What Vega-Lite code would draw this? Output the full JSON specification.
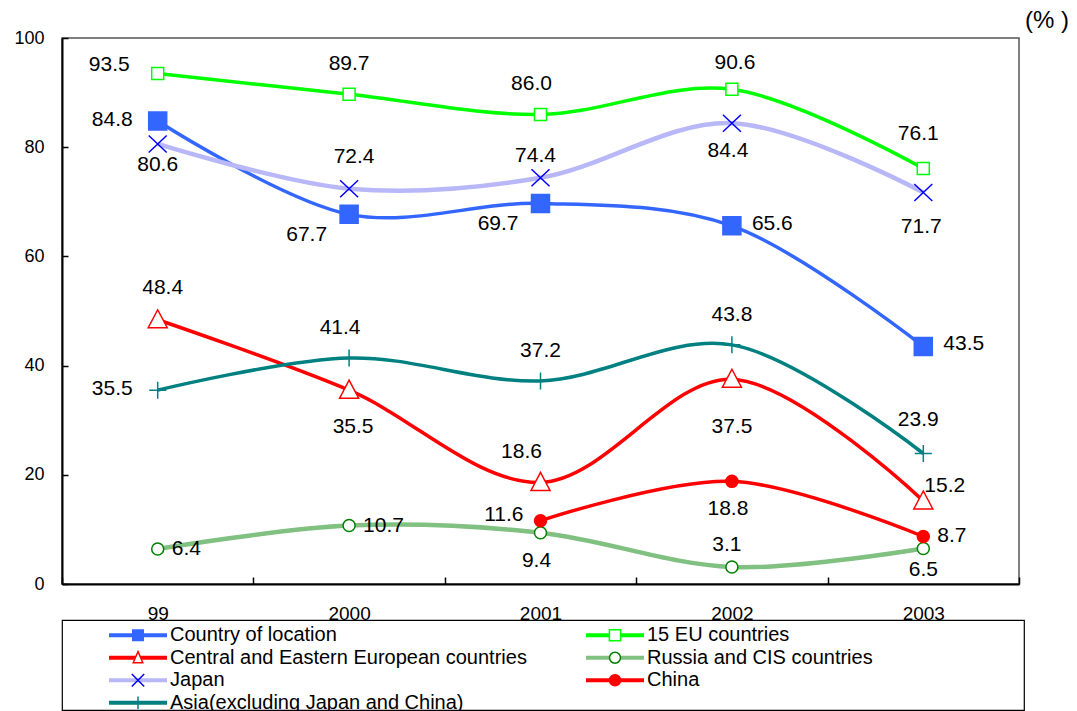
{
  "$schema": "https://vega.github.io/schema/vega-lite/v6.json",
  "autosize": {"type": "pad"},
  "padding": {"left": 13, "top": 8, "right": 5, "bottom": 0},
  "background": "white",
  "spacing": 36,
  "bounds": "flush",
  "resolve": {"scale": {"shape": "independent"}},
  "config": {
    "view": {"stroke": "#555555", "strokeWidth": 1.5},
    "axis": {"grid": false, "domainColor": "black", "domainWidth": 2, "tickColor": "black", "tickWidth": 1.5, "labelColor": "black", "labelFont": "Liberation Sans", "title": null},
    "text": {"font": "Liberation Sans", "fontSize": 21, "color": "black", "baseline": "middle", "align": "center"}
  },
  "datasets": {
    "main": [
      {"series": "Country of location", "year": "99", "value": 84.8},
      {"series": "Country of location", "year": "2000", "value": 67.7},
      {"series": "Country of location", "year": "2001", "value": 69.7},
      {"series": "Country of location", "year": "2002", "value": 65.6},
      {"series": "Country of location", "year": "2003", "value": 43.5},
      {"series": "15 EU countries", "year": "99", "value": 93.5},
      {"series": "15 EU countries", "year": "2000", "value": 89.7},
      {"series": "15 EU countries", "year": "2001", "value": 86.0},
      {"series": "15 EU countries", "year": "2002", "value": 90.6},
      {"series": "15 EU countries", "year": "2003", "value": 76.1},
      {"series": "Central and Eastern European countries", "year": "99", "value": 48.4},
      {"series": "Central and Eastern European countries", "year": "2000", "value": 35.5},
      {"series": "Central and Eastern European countries", "year": "2001", "value": 18.6},
      {"series": "Central and Eastern European countries", "year": "2002", "value": 37.5},
      {"series": "Central and Eastern European countries", "year": "2003", "value": 15.2},
      {"series": "Russia and CIS countries", "year": "99", "value": 6.4},
      {"series": "Russia and CIS countries", "year": "2000", "value": 10.7},
      {"series": "Russia and CIS countries", "year": "2001", "value": 9.4},
      {"series": "Russia and CIS countries", "year": "2002", "value": 3.1},
      {"series": "Russia and CIS countries", "year": "2003", "value": 6.5},
      {"series": "Japan", "year": "99", "value": 80.6},
      {"series": "Japan", "year": "2000", "value": 72.4},
      {"series": "Japan", "year": "2001", "value": 74.4},
      {"series": "Japan", "year": "2002", "value": 84.4},
      {"series": "Japan", "year": "2003", "value": 71.7},
      {"series": "China", "year": "2001", "value": 11.6},
      {"series": "China", "year": "2002", "value": 18.8},
      {"series": "China", "year": "2003", "value": 8.7},
      {"series": "Asia(excluding Japan and China)", "year": "99", "value": 35.5},
      {"series": "Asia(excluding Japan and China)", "year": "2000", "value": 41.4},
      {"series": "Asia(excluding Japan and China)", "year": "2001", "value": 37.2},
      {"series": "Asia(excluding Japan and China)", "year": "2002", "value": 43.8},
      {"series": "Asia(excluding Japan and China)", "year": "2003", "value": 23.9}
    ],
    "legend": [
      {"series": "Country of location"},
      {"series": "15 EU countries"},
      {"series": "Central and Eastern European countries"},
      {"series": "Russia and CIS countries"},
      {"series": "Japan"},
      {"series": "China"},
      {"series": "Asia(excluding Japan and China)"}
    ]
  },
  "vconcat": [
    {
      "width": 957,
      "height": 546,
      "title": {"text": "(% )", "anchor": "end", "frame": "group", "dx": 50, "offset": -28, "baseline": "bottom", "fontSize": 24, "fontWeight": "normal", "font": "Liberation Sans", "color": "black"},
      "data": {"name": "main"},
      "encoding": {
        "x": {"field": "year", "type": "ordinal", "sort": ["99", "2000", "2001", "2002", "2003"],
          "scale": {"type": "band", "paddingInner": 0, "paddingOuter": 0},
          "axis": {"labelAngle": 0, "labelFontSize": 19, "tickBand": "extent", "tickSize": -7, "labelPadding": 27}},
        "y": {"field": "value", "type": "quantitative", "scale": {"domain": [0, 100], "nice": false},
          "axis": {"values": [0, 20, 40, 60, 80, 100], "labelFontSize": 18, "tickSize": -6, "labelPadding": 24}}
      },
      "layer": [
        {
          "transform": [{"filter": "datum.series !== 'Japan' && datum.series !== 'Russia and CIS countries'"}],
          "mark": {"type": "line", "interpolate": "catmull-rom", "strokeWidth": 3.5},
          "encoding": {
            "color": {"field": "series", "type": "nominal", "legend": null,
              "scale": {"domain": ["Country of location", "15 EU countries", "Central and Eastern European countries", "Russia and CIS countries", "Japan", "China", "Asia(excluding Japan and China)"],
                        "range": ["#3366FF", "#00FF00", "#FF0000", "#80C080", "#B8B8F8", "#FF0000", "#008080"]}}
          }
        },
        {
          "transform": [{"filter": "datum.series === 'Japan' || datum.series === 'Russia and CIS countries'"}],
          "mark": {"type": "line", "interpolate": "catmull-rom", "strokeWidth": 4.5},
          "encoding": {"color": {"field": "series", "type": "nominal", "legend": null}}
        },
        {
          "mark": {"type": "point", "size": 400, "strokeWidth": 1.5, "opacity": 1},
          "encoding": {
            "shape": {"field": "series", "type": "nominal", "legend": null,
              "scale": {"domain": ["Country of location", "15 EU countries", "Central and Eastern European countries", "Russia and CIS countries", "Japan", "China", "Asia(excluding Japan and China)"],
                        "range": ["M-0.9,-0.9H0.9V0.9H-0.9Z", "M-0.6,-0.6H0.6V0.6H-0.6Z", "M0,-1L0.95,0.8H-0.95Z", "M0.6,0A0.6,0.6 0 1,1 -0.6,0A0.6,0.6 0 1,1 0.6,0Z", "M-0.9,-0.85L0.9,0.85M-0.9,0.85L0.9,-0.85", "M0.6,0A0.6,0.6 0 1,1 -0.6,0A0.6,0.6 0 1,1 0.6,0Z", "M-0.85,0H0.85M0,-0.85V0.85"]}},
            "fill": {"field": "series", "type": "nominal", "legend": null,
              "scale": {"domain": ["Country of location", "15 EU countries", "Central and Eastern European countries", "Russia and CIS countries", "Japan", "China", "Asia(excluding Japan and China)"],
                        "range": ["#3366FF", "#FFFFFF", "#FFFFFF", "#FFFFFF", "transparent", "#FF0000", "transparent"]}},
            "stroke": {"field": "series", "type": "nominal", "legend": null,
              "scale": {"domain": ["Country of location", "15 EU countries", "Central and Eastern European countries", "Russia and CIS countries", "Japan", "China", "Asia(excluding Japan and China)"],
                        "range": ["#3366FF", "#00FF00", "#FF0000", "#008000", "#0000FF", "#FF0000", "#008080"]}}
          }
        },
        {"transform": [{"filter": "indexof(['15 EU countries|2000','Asia(excluding Japan and China)|2001','Asia(excluding Japan and China)|2002'], datum.series + '|' + datum.year) >= 0"}],
         "mark": {"type": "text", "dx": 0, "dy": -30}, "encoding": {"text": {"field": "value", "format": ".1f"}}},
        {"transform": [{"filter": "indexof(['15 EU countries|2001','Asia(excluding Japan and China)|2000'], datum.series + '|' + datum.year) >= 0"}],
         "mark": {"type": "text", "dx": -9, "dy": -30}, "encoding": {"text": {"field": "value", "format": ".1f"}}},
        {"transform": [{"filter": "indexof(['15 EU countries|2002'], datum.series + '|' + datum.year) >= 0"}],
         "mark": {"type": "text", "dx": 3, "dy": -26}, "encoding": {"text": {"field": "value", "format": ".1f"}}},
        {"transform": [{"filter": "indexof(['15 EU countries|2003','Asia(excluding Japan and China)|2003'], datum.series + '|' + datum.year) >= 0"}],
         "mark": {"type": "text", "dx": -5, "dy": -34}, "encoding": {"text": {"field": "value", "format": ".1f"}}},
        {"transform": [{"filter": "indexof(['Japan|2000','Central and Eastern European countries|99'], datum.series + '|' + datum.year) >= 0"}],
         "mark": {"type": "text", "dx": 5, "dy": -32}, "encoding": {"text": {"field": "value", "format": ".1f"}}},
        {"transform": [{"filter": "indexof(['Japan|2001','Russia and CIS countries|2002'], datum.series + '|' + datum.year) >= 0"}],
         "mark": {"type": "text", "dx": -5, "dy": -22}, "encoding": {"text": {"field": "value", "format": ".1f"}}},
        {"transform": [{"filter": "indexof(['Japan|99','Russia and CIS countries|2003'], datum.series + '|' + datum.year) >= 0"}],
         "mark": {"type": "text", "dx": 0, "dy": 21}, "encoding": {"text": {"field": "value", "format": ".1f"}}},
        {"transform": [{"filter": "indexof(['Japan|2002','China|2002','Russia and CIS countries|2001'], datum.series + '|' + datum.year) >= 0"}],
         "mark": {"type": "text", "dx": -4, "dy": 28}, "encoding": {"text": {"field": "value", "format": ".1f"}}},
        {"transform": [{"filter": "indexof(['Japan|2003'], datum.series + '|' + datum.year) >= 0"}],
         "mark": {"type": "text", "dx": -2, "dy": 34}, "encoding": {"text": {"field": "value", "format": ".1f"}}},
        {"transform": [{"filter": "indexof(['Central and Eastern European countries|2000'], datum.series + '|' + datum.year) >= 0"}],
         "mark": {"type": "text", "dx": 4, "dy": 37}, "encoding": {"text": {"field": "value", "format": ".1f"}}},
        {"transform": [{"filter": "indexof(['Central and Eastern European countries|2001'], datum.series + '|' + datum.year) >= 0"}],
         "mark": {"type": "text", "dx": -19, "dy": -30}, "encoding": {"text": {"field": "value", "format": ".1f"}}},
        {"transform": [{"filter": "indexof(['Central and Eastern European countries|2002'], datum.series + '|' + datum.year) >= 0"}],
         "mark": {"type": "text", "dx": 0, "dy": 48}, "encoding": {"text": {"field": "value", "format": ".1f"}}},
        {"transform": [{"filter": "indexof(['Country of location|99','Asia(excluding Japan and China)|99'], datum.series + '|' + datum.year) >= 0"}],
         "mark": {"type": "text", "align": "right", "dx": -25, "dy": -1}, "encoding": {"text": {"field": "value", "format": ".1f"}}},
        {"transform": [{"filter": "indexof(['15 EU countries|99'], datum.series + '|' + datum.year) >= 0"}],
         "mark": {"type": "text", "align": "right", "dx": -28, "dy": -8}, "encoding": {"text": {"field": "value", "format": ".1f"}}},
        {"transform": [{"filter": "indexof(['China|2001'], datum.series + '|' + datum.year) >= 0"}],
         "mark": {"type": "text", "align": "right", "dx": -17, "dy": -6}, "encoding": {"text": {"field": "value", "format": ".1f"}}},
        {"transform": [{"filter": "indexof(['Country of location|2000','Country of location|2001'], datum.series + '|' + datum.year) >= 0"}],
         "mark": {"type": "text", "align": "right", "dx": -22, "dy": 21}, "encoding": {"text": {"field": "value", "format": ".1f"}}},
        {"transform": [{"filter": "indexof(['Country of location|2002','Country of location|2003'], datum.series + '|' + datum.year) >= 0"}],
         "mark": {"type": "text", "align": "left", "dx": 20, "dy": -2}, "encoding": {"text": {"field": "value", "format": ".1f"}}},
        {"transform": [{"filter": "indexof(['Russia and CIS countries|99','Russia and CIS countries|2000','China|2003'], datum.series + '|' + datum.year) >= 0"}],
         "mark": {"type": "text", "align": "left", "dx": 14, "dy": 0}, "encoding": {"text": {"field": "value", "format": ".1f"}}},
        {"transform": [{"filter": "indexof(['Central and Eastern European countries|2003'], datum.series + '|' + datum.year) >= 0"}],
         "mark": {"type": "text", "align": "left", "dx": 1, "dy": -15}, "encoding": {"text": {"field": "value", "format": ".1f"}}}
      ]
    },
    {
      "width": 962,
      "height": 90,
      "view": {"stroke": "black", "strokeWidth": 1.2},
      "data": {"name": "legend"},
      "transform": [
        {"window": [{"op": "row_number", "as": "rn"}]},
        {"calculate": "(datum.rn - 1) % 2", "as": "col"},
        {"calculate": "floor((datum.rn - 1) / 2)", "as": "row"}
      ],
      "encoding": {
        "x": {"field": "col", "type": "ordinal", "bandPosition": 0,
          "scale": {"type": "band", "domain": [0, 1], "paddingInner": 0, "paddingOuter": 0.0084}, "axis": null},
        "y": {"field": "row", "type": "ordinal",
          "scale": {"type": "band", "domain": [0, 1, 2, 3], "paddingInner": 0, "paddingOuter": 0}, "axis": null}
      },
      "layer": [
        {
          "mark": {"type": "point", "shape": "M-1,0H1", "size": 3364, "strokeWidth": 4, "filled": false, "opacity": 1, "xOffset": 72, "yOffset": 4},
          "encoding": {"color": {"field": "series", "type": "nominal", "legend": null}}
        },
        {
          "mark": {"type": "point", "size": 400, "strokeWidth": 1.5, "opacity": 1, "xOffset": 72, "yOffset": 4},
          "encoding": {
            "shape": {"field": "series", "type": "nominal", "legend": null,
              "scale": {"domain": ["Country of location", "15 EU countries", "Central and Eastern European countries", "Russia and CIS countries", "Japan", "China", "Asia(excluding Japan and China)"],
                        "range": ["M-0.525,-0.525H0.525V0.525H-0.525Z", "M-0.56,-0.56H0.56V0.56H-0.56Z", "M0,-0.62L0.48,0.5H-0.48Z", "M0.55,0A0.55,0.55 0 1,1 -0.55,0A0.55,0.55 0 1,1 0.55,0Z", "M-0.62,-0.62L0.62,0.62M-0.62,0.62L0.62,-0.62", "M0.55,0A0.55,0.55 0 1,1 -0.55,0A0.55,0.55 0 1,1 0.55,0Z", "M0,-0.62V0.62"]}},
            "fill": {"field": "series", "type": "nominal", "legend": null},
            "stroke": {"field": "series", "type": "nominal", "legend": null}
          }
        },
        {
          "mark": {"type": "text", "align": "left", "baseline": "middle", "fontSize": 20, "font": "Liberation Sans", "dx": 104, "dy": 4},
          "encoding": {"text": {"field": "series"}}
        }
      ]
    }
  ]
}
